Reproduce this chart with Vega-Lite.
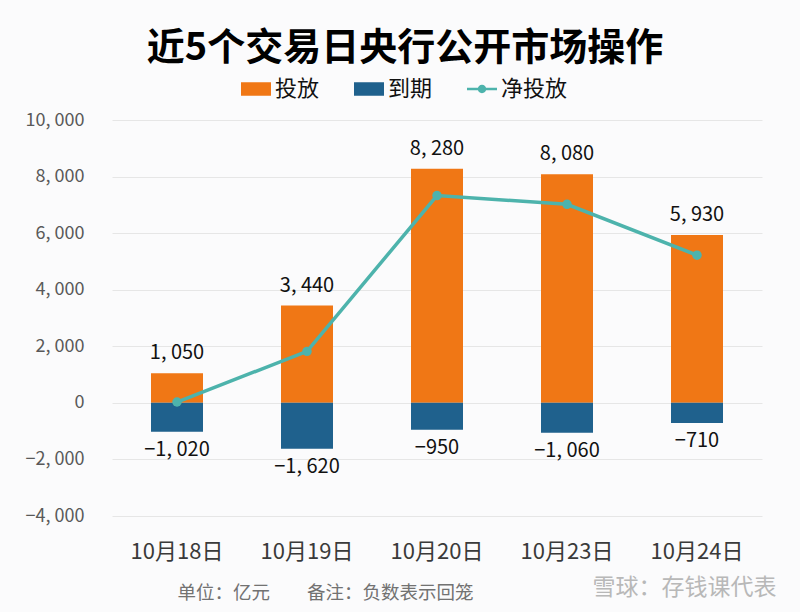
{
  "$schema": "https://vega.github.io/schema/vega-lite/v6.json",
  "autosize": {"type": "none"},
  "width": 650,
  "height": 396,
  "padding": {"left": 112, "top": 120, "right": 38, "bottom": 96},
  "background": "#fbfbfc",
  "title": {
    "text": "近5个交易日央行公开市场操作",
    "font": "Noto Sans CJK SC",
    "fontSize": 38,
    "fontWeight": "bold",
    "color": "#000000",
    "anchor": "middle",
    "frame": "group",
    "dx": -32,
    "offset": 6
  },
  "config": {
    "font": "Noto Sans CJK SC",
    "view": {"stroke": null}
  },
  "datasets": {
    "bars": [
      {"date": "10月18日", "type": "投放", "value": 1050},
      {"date": "10月19日", "type": "投放", "value": 3440},
      {"date": "10月20日", "type": "投放", "value": 8280},
      {"date": "10月23日", "type": "投放", "value": 8080},
      {"date": "10月24日", "type": "投放", "value": 5930},
      {"date": "10月18日", "type": "到期", "value": -1020},
      {"date": "10月19日", "type": "到期", "value": -1620},
      {"date": "10月20日", "type": "到期", "value": -950},
      {"date": "10月23日", "type": "到期", "value": -1060},
      {"date": "10月24日", "type": "到期", "value": -710}
    ],
    "net": [
      {"date": "10月18日", "net": 30},
      {"date": "10月19日", "net": 1820},
      {"date": "10月20日", "net": 7330},
      {"date": "10月23日", "net": 7020},
      {"date": "10月24日", "net": 5220}
    ]
  },
  "encoding": {
    "x": {
      "field": "date",
      "type": "nominal",
      "sort": null,
      "scale": {"paddingInner": 0.6, "paddingOuter": 0.3},
      "axis": {
        "domain": false,
        "ticks": false,
        "labelAngle": 0,
        "labelFontSize": 22,
        "labelColor": "#3a3a3a",
        "labelPadding": 25,
        "title": "单位：亿元\u3000\u3000备注：负数表示回笼",
        "titleFontSize": 18.5,
        "titleFontWeight": "normal",
        "titleColor": "#727272",
        "titleAnchor": "start",
        "titleAlign": "left",
        "titleX": 65,
        "titleY": 76,
        "titleBaseline": "middle"
      }
    }
  },
  "layer": [
    {
      "data": {"name": "bars"},
      "mark": {"type": "bar"},
      "encoding": {
        "y": {
          "field": "value",
          "type": "quantitative",
          "stack": null,
          "scale": {"domain": [-4000, 10000], "nice": false, "zero": false},
          "axis": {
            "values": [-4000, -2000, 0, 2000, 4000, 6000, 8000, 10000],
            "labelExpr": "replace(format(datum.value, ','), ',', ', ')",
            "domain": false,
            "ticks": false,
            "labelPadding": 28,
            "labelFontSize": 18,
            "labelColor": "#595959",
            "gridColor": "#e6e6e6",
            "gridWidth": 1,
            "title": "雪球：存钱课代表",
            "titleAngle": 0,
            "titleFontSize": 23,
            "titleFontWeight": "normal",
            "titleColor": "#b8b8b8",
            "titleAlign": "left",
            "titleBaseline": "middle",
            "titleX": 480,
            "titleY": 467
          }
        },
        "color": {
          "field": "type",
          "type": "nominal",
          "scale": {
            "domain": ["投放", "到期", "净投放"],
            "range": ["#f07715", "#1f618d", "#4db3ac"]
          },
          "legend": {
            "title": null,
            "orient": "none",
            "direction": "horizontal",
            "legendX": 129,
            "legendY": -46,
            "labelFontSize": 22,
            "labelColor": "#111111",
            "labelOffset": 4,
            "columnPadding": 34,
            "symbolSize": 900,
            "symbolStrokeWidth": 0,
            "encode": {
              "symbols": {
                "update": {
                  "shape": {"signal": "datum.label === '净投放' ? 'M-1,-0.08H1V0.08H-1Z M-0.28,0A0.28,0.28 0 1,1 0.28,0A0.28,0.28 0 1,1 -0.28,0Z' : 'M-1,-0.45H1V0.45H-1Z'"},
                  "fill": {"signal": "scale('color', datum.value)"},
                  "stroke": {"value": "transparent"},
                  "strokeWidth": {"value": 0},
                  "opacity": {"value": 1}
                }
              }
            }
          }
        }
      }
    },
    {
      "data": {"name": "bars"},
      "transform": [{"filter": "datum.value > 0"}],
      "mark": {
        "type": "text",
        "baseline": "bottom",
        "dy": -10,
        "fontSize": 20,
        "color": "#111111",
        "text": {"expr": "replace(format(datum.value, ','), ',', ', ')"}
      },
      "encoding": {
        "y": {"field": "value", "type": "quantitative"}
      }
    },
    {
      "data": {"name": "bars"},
      "transform": [{"filter": "datum.value < 0"}],
      "mark": {
        "type": "text",
        "baseline": "top",
        "dy": 8,
        "fontSize": 20,
        "color": "#111111",
        "text": {"expr": "replace(format(datum.value, ','), ',', ', ')"}
      },
      "encoding": {
        "y": {"field": "value", "type": "quantitative"}
      }
    },
    {
      "data": {"name": "net"},
      "mark": {
        "type": "line",
        "strokeWidth": 3.5,
        "point": {"filled": true, "size": 90}
      },
      "encoding": {
        "y": {"field": "net", "type": "quantitative"},
        "color": {"datum": "净投放"}
      }
    }
  ]
}
